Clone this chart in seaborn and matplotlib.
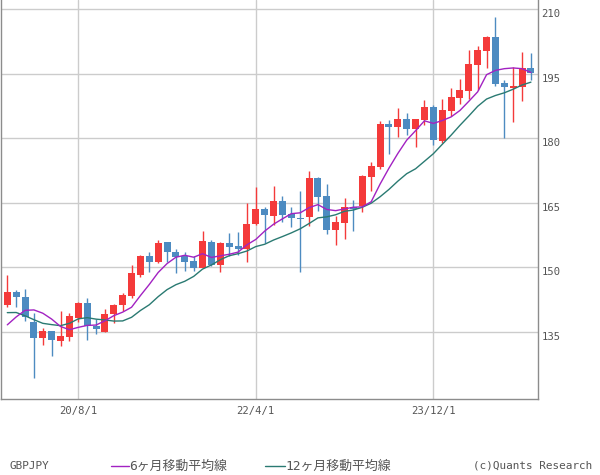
import numpy as np
import pandas as pd
import matplotlib
matplotlib.use("Agg")
import matplotlib.pyplot as plt
from matplotlib.lines import Line2D
import seaborn as sns

# ---- data (monthly GBPJPY, Dec 2019 - Nov 2024) ----
opens = [141.3, 144.3, 143.1, 137.3, 133.6, 135.2, 132.9, 133.9, 138.2, 141.8,
         136.4, 135.1, 139.1, 141.2, 143.4, 148.3, 152.6, 151.2, 155.9, 153.7,
         152.6, 151.5, 149.9, 156.0, 150.6, 155.6, 154.9, 154.3, 160.0, 163.6,
         162.0, 165.4, 162.4, 161.6, 161.8, 170.8, 166.6, 158.7, 160.4, 164.0,
         164.2, 171.1, 173.4, 183.3, 182.7, 184.5, 182.2, 184.3, 187.3, 179.4,
         186.4, 189.4, 191.1, 197.0, 200.4, 203.6, 192.8, 191.8, 192.0, 196.3]
highs = [148.3, 144.8, 144.9, 139.5, 135.9, 135.3, 139.8, 139.4, 142.0, 142.8,
         138.0, 140.3, 141.6, 144.0, 150.6, 152.9, 153.5, 156.3, 155.9, 154.3,
         153.5, 152.6, 158.4, 156.4, 156.0, 158.0, 158.3, 164.9, 168.7, 164.1,
         169.0, 166.7, 164.0, 167.7, 172.4, 171.1, 169.4, 161.9, 166.1, 165.6,
         171.5, 174.4, 184.0, 184.3, 187.0, 186.0, 184.5, 188.9, 187.7, 189.1,
         191.6, 193.7, 200.6, 201.4, 203.9, 208.3, 193.6, 196.5, 200.1, 199.8]
lows = [140.8, 140.8, 137.6, 124.3, 132.0, 129.4, 131.8, 132.9, 137.4, 133.2,
        134.5, 134.9, 137.0, 139.8, 143.0, 147.7, 149.0, 151.0, 151.3, 148.6,
        149.2, 149.1, 149.9, 150.4, 148.9, 152.7, 152.9, 151.2, 159.8, 155.8,
        159.9, 160.5, 159.4, 149.0, 159.7, 163.2, 157.8, 155.3, 156.6, 158.4,
        162.8, 167.8, 172.8, 176.4, 180.3, 180.8, 178.0, 183.2, 178.4, 178.9,
        185.3, 188.1, 189.1, 191.3, 196.3, 192.2, 180.2, 183.7, 188.7, 193.6]
closes = [144.3, 143.2, 138.5, 133.6, 135.2, 133.2, 134.0, 138.7, 141.8, 136.3,
          135.7, 139.1, 141.2, 143.6, 148.6, 152.6, 151.2, 155.8, 153.6, 152.5,
          151.3, 149.9, 156.1, 150.6, 155.8, 154.7, 154.3, 160.1, 163.6, 162.2,
          165.4, 162.2, 161.5, 161.3, 170.8, 166.4, 158.7, 160.5, 164.0, 163.6,
          171.3, 173.5, 183.3, 182.7, 184.5, 182.2, 184.5, 187.3, 179.7, 186.6,
          189.6, 191.2, 197.3, 200.5, 203.6, 192.6, 192.0, 192.2, 196.3, 195.2]
# closes of the 11 months before the first candle (MA warm-up)
pre_close = [142.8, 147.7, 144.5, 145.3, 136.8, 136.9, 132.2, 129.3, 133.0, 139.8, 141.4]

x_tick_pos = [8, 28, 48]
x_tick_labels = ["20/8/1", "22/4/1", "23/12/1"]
y_ticks = [135, 150, 165, 180, 195, 210]

RED = "#F43A3A"
BLUE = "#4D8BC1"
PURPLE = "#A222C2"
TEAL = "#2A7A72"
TXT = "#555555"

sns.set_style("white")
plt.rcParams["font.family"] = ["DejaVu Sans Mono", "Noto Sans CJK JP"]

df = pd.DataFrame({"i": np.arange(len(closes)), "open": opens, "high": highs,
                   "low": lows, "close": closes})
full = pd.Series(pre_close + closes)
n_pre = len(pre_close)
df["ma6"] = full.rolling(6).mean().iloc[n_pre:].to_numpy()
df["ma12"] = full.rolling(12).mean().iloc[n_pre:].to_numpy()

fig = plt.figure(figsize=(6, 4.75), dpi=100)
ax = fig.add_axes([1 / 600, 76 / 475, 536.5 / 600, 399 / 475])

up = df["close"] >= df["open"]
colors = np.where(up, RED, BLUE)
ax.vlines(df["i"], df["low"], df["high"], colors=colors, linewidth=1.0, zorder=2)
body_lo = np.minimum(df["open"], df["close"])
body_h = np.maximum(np.abs(df["close"] - df["open"]), 0.25)
ax.bar(df["i"], body_h, bottom=body_lo, width=0.8, color=colors, linewidth=0, zorder=3)

sns.lineplot(data=df, x="i", y="ma12", ax=ax, color=TEAL, linewidth=1.0, zorder=4)
sns.lineplot(data=df, x="i", y="ma6", ax=ax, color=PURPLE, linewidth=1.0, zorder=5)

ax.set_xlim(-0.71, 59.74)
ax.set_ylim(119.43, 212.16)
ax.set_xlabel("")
ax.set_ylabel("")
ax.set_xticks(x_tick_pos)
ax.set_xticklabels(x_tick_labels)
ax.set_yticks(y_ticks)
ax.yaxis.tick_right()
ax.grid(True, color="#CCCCCC", linewidth=1.0, zorder=0)
ax.set_axisbelow(True)
ax.tick_params(axis="both", length=0, labelsize=7.6, colors=TXT)
ax.tick_params(axis="x", pad=5)
ax.tick_params(axis="y", pad=3)
for lab in ax.get_yticklabels():
    lab.set_verticalalignment("top")
for side in ["left", "bottom", "right"]:
    ax.spines[side].set_color("#8C8C8C")
    ax.spines[side].set_linewidth(1.0)
ax.spines["top"].set_visible(False)

# ---- bottom legend ----
ty = 9 / 475
fig.text(9.5 / 600, ty, "GBPJPY", fontsize=7.9, color=TXT, va="center", ha="left")
fig.add_artist(Line2D([110.8 / 600, 128.5 / 600], [ty, ty], color=PURPLE, linewidth=1.0,
                      transform=fig.transFigure))
fig.text(129 / 600, ty, "6ヶ月移動平均線", fontsize=9.3, color=TXT, va="center", ha="left")
fig.add_artist(Line2D([264.6 / 600, 284.6 / 600], [ty, ty], color=TEAL, linewidth=1.0,
                      transform=fig.transFigure))
fig.text(285 / 600, ty, "12ヶ月移動平均線", fontsize=9.3, color=TXT, va="center", ha="left")
fig.text(592 / 600, ty, "(c)Quants Research", fontsize=7.9, color=TXT, va="center", ha="right")

fig.savefig("out.png", dpi=100)
